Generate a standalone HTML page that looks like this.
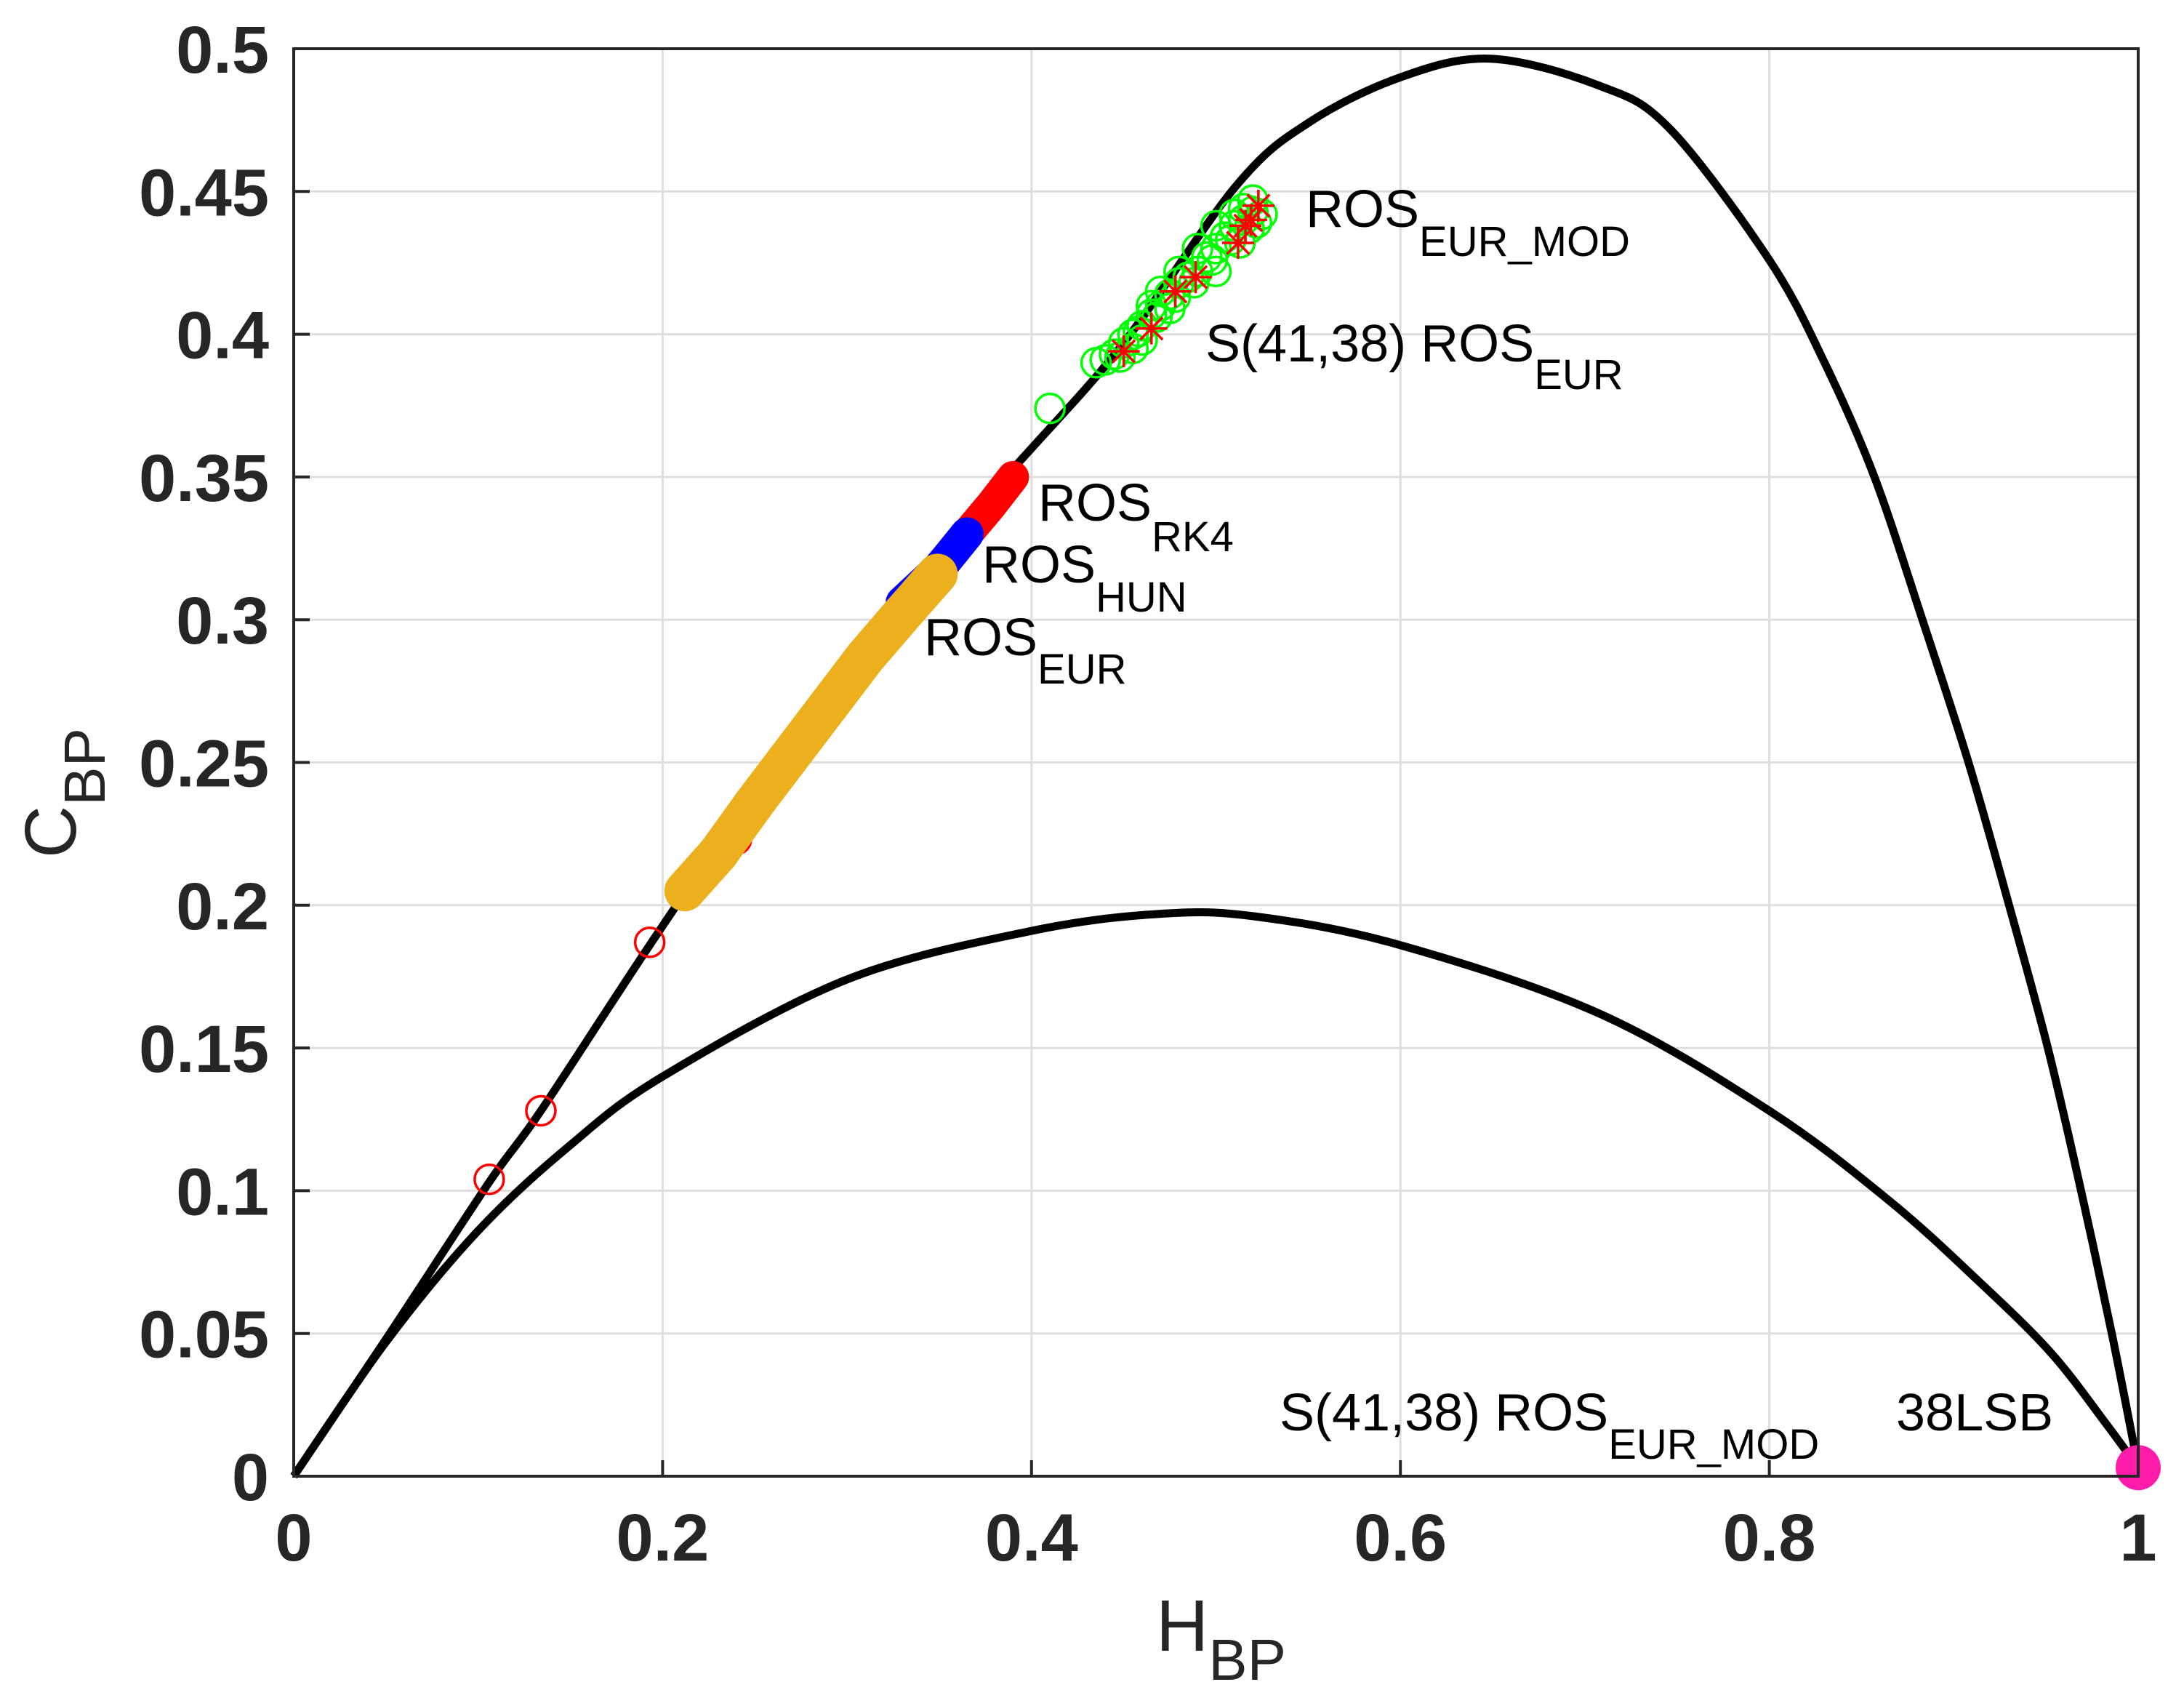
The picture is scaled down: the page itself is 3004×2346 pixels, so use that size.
<!DOCTYPE html>
<html><head><meta charset="utf-8"><style>
html,body{margin:0;padding:0;background:#fff;}
svg{display:block;font-family:"Liberation Sans",Arial,sans-serif;}
</style></head><body>
<svg id="chart" width="3004" height="2346" viewBox="0 0 3004 2346" xmlns="http://www.w3.org/2000/svg">
<g id="grid"></g>
<g id="curves"></g>
<g id="marks"></g>
<g id="axes"></g>
<g id="labels" font-size="72" fill="#000">
  <text x="1796" y="312">ROS<tspan font-size="58" dy="40">EUR_MOD</tspan></text>
  <text x="1658" y="497">S(41,38) ROS<tspan font-size="58" dy="38">EUR</tspan></text>
  <text x="1428" y="716">ROS<tspan font-size="58" dy="42">RK4</tspan></text>
  <text x="1351" y="801">ROS<tspan font-size="58" dy="40">HUN</tspan></text>
  <text x="1271" y="901">ROS<tspan font-size="58" dy="39">EUR</tspan></text>
  <text x="1760" y="1967">S(41,38) ROS<tspan font-size="58" dy="39">EUR_MOD</tspan></text>
  <text x="2608" y="1967">38LSB</text>
</g>
<text x="1590" y="2270" font-size="100" fill="#262626">H<tspan font-size="80" dy="40">BP</tspan></text>
<text transform="translate(104,1180) rotate(-90)" font-size="100" fill="#262626">C<tspan font-size="80" dy="40">BP</tspan></text>
</svg>
<script>
const xTicks=[0,0.2,0.4,0.6,0.8,1];
const xTickLabels=["0","0.2","0.4","0.6","0.8","1"];
const yTicks=[0,0.05,0.1,0.15,0.2,0.25,0.3,0.35,0.4,0.45,0.5];
const yTickLabels=["0","0.05","0.1","0.15","0.2","0.25","0.3","0.35","0.4","0.45","0.5"];
const upperH=[0,0.05,0.106,0.134,0.193,0.25,0.3,0.35,0.4,0.45,0.511,0.55,0.6,0.649,0.708,0.746,0.8,0.83,0.857,0.883,0.908,0.93,0.951,0.969,0.986,1];
const upperC=[0,0.048,0.103,0.128,0.186,0.24,0.285,0.325,0.36,0.397,0.452,0.474,0.49,0.4965,0.487,0.472,0.426,0.39,0.35,0.3,0.25,0.2,0.15,0.1,0.049,0.003];
const lowerH=[0,0.05,0.1,0.15,0.2,0.3,0.4,0.47,0.522,0.6,0.708,0.8,0.865,0.914,0.953,0.983,1];
const lowerC=[0,0.047,0.086,0.116,0.14,0.174,0.191,0.197,0.196,0.186,0.162,0.128,0.0965,0.068,0.043,0.018,0.003];
const eurH=[0.212,0.23,0.25,0.27,0.29,0.31,0.33,0.349];
const eurC=[0.205,0.218,0.236,0.253,0.27,0.287,0.302,0.316];
const hunH=[0.33,0.35,0.365];
const hunC=[0.306,0.318,0.33];
const rk4H=[0.365,0.378,0.39];
const rk4C=[0.33,0.34,0.35];
const greenH=[0.41,0.435,0.44,0.445,0.45,0.455,0.46,0.465,0.47,0.475,0.48,0.485,0.49,0.495,0.5,0.505,0.51,0.515,0.52,0.525,0.52,0.515,0.51,0.5,0.49,0.48,0.47,0.465,0.455,0.46,0.475,0.5,0.513,0.448,0.458,0.468,0.478,0.488,0.498,0.508,0.518,0.522];
const greenC=[0.374,0.39,0.391,0.393,0.397,0.4,0.403,0.407,0.41,0.414,0.418,0.42,0.422,0.427,0.43,0.434,0.438,0.44,0.443,0.442,0.447,0.444,0.442,0.438,0.43,0.422,0.415,0.41,0.395,0.398,0.409,0.422,0.432,0.392,0.401,0.406,0.413,0.418,0.426,0.433,0.437,0.439];
const starH=[0.45,0.465,0.478,0.489,0.512,0.516,0.519,0.523];
const starC=[0.394,0.402,0.415,0.42,0.432,0.438,0.44,0.445];
const redOpenH=[0.106,0.134,0.193,0.24];
const redOpenC=[0.104,0.128,0.187,0.223];
const lsbH=[1];
const lsbC=[0.003];

const NS="http://www.w3.org/2000/svg";
const X=h=>404+h*2537;
const Y=c=>2030-c*3926;
function mk(tag,attrs,parent){const e=document.createElementNS(NS,tag);for(const k in attrs)e.setAttribute(k,attrs[k]);parent.appendChild(e);return e;}
const grid=document.getElementById('grid'),curves=document.getElementById('curves'),marks=document.getElementById('marks'),axes=document.getElementById('axes');

xTicks.forEach((t,i)=>{
  const g=mk('line',{x1:X(t),x2:X(t),y1:Y(0),y2:Y(0.5),stroke:'#dedede','stroke-width':3},grid);
  
  
  const tk=mk('line',{x1:X(t),x2:X(t),y1:Y(0),y2:Y(0)-22,stroke:'#262626','stroke-width':4},axes);
  
  
  const tx=mk('text',{x:X(t),y:2146,'text-anchor':'middle','font-size':92,'font-weight':'bold',fill:'#262626'},axes);
  tx.textContent=xTickLabels[i];
  
  
});
yTicks.forEach((t,i)=>{
  const g=mk('line',{x1:X(0),x2:X(1),y1:Y(t),y2:Y(t),stroke:'#dedede','stroke-width':3},grid);
  
  
  const tk=mk('line',{x1:X(0),x2:X(0)+22,y1:Y(t),y2:Y(t),stroke:'#262626','stroke-width':4},axes);
  
  
  const tx=mk('text',{x:370,y:Y(t)+33,'text-anchor':'end','font-size':92,'font-weight':'bold',fill:'#262626'},axes);
  tx.textContent=yTickLabels[i];
  
  
});
const box=mk('rect',{x:X(0),y:Y(0.5),width:X(1)-X(0),height:Y(0)-Y(0.5),fill:'none',stroke:'#262626','stroke-width':4},axes);



function path(hs,cs){return hs.map((h,i)=>(i?'L':'M')+X(h).toFixed(1)+','+Y(cs[i]).toFixed(1)).join(' ');}
function smooth(hs,cs){
  const p=hs.map((h,i)=>[X(h),Y(cs[i])]);
  let d='M'+p[0][0].toFixed(1)+','+p[0][1].toFixed(1);
  for(let i=0;i<p.length-1;i++){
    const p0=p[i-1]||p[i],p1=p[i],p2=p[i+1],p3=p[i+2]||p2;
    const c1=[p1[0]+(p2[0]-p0[0])/6,p1[1]+(p2[1]-p0[1])/6];
    const c2=[p2[0]-(p3[0]-p1[0])/6,p2[1]-(p3[1]-p1[1])/6];
    d+=`C${c1[0].toFixed(1)},${c1[1].toFixed(1)} ${c2[0].toFixed(1)},${c2[1].toFixed(1)} ${p2[0].toFixed(1)},${p2[1].toFixed(1)}`;
  }
  return d;
}
const up=mk('path',{d:smooth(upperH,upperC),fill:'none',stroke:'#000','stroke-width':11,'stroke-linejoin':'round'},curves);


const lo=mk('path',{d:smooth(lowerH,lowerC),fill:'none',stroke:'#000','stroke-width':11,'stroke-linejoin':'round'},curves);



redOpenH.forEach((h,i)=>{
  const c=mk('circle',{cx:X(h),cy:Y(redOpenC[i]),r:20,fill:'none',stroke:'#ff0000','stroke-width':3.5},marks);
  
  
});
function band(hs,cs,color,w,name){
  const p=mk('path',{d:path(hs,cs),fill:'none',stroke:color,'stroke-width':w,'stroke-linecap':'round','stroke-linejoin':'round'},marks);
  
  
}
band(rk4H,rk4C,'#ff0000',44,'ros-rk4-points');
band(hunH,hunC,'#0000ff',46,'ros-hun-points');
band(eurH,eurC,'#ecb01f',56,'ros-eur-points');

greenH.forEach((h,i)=>{
  const c=mk('circle',{cx:X(h),cy:Y(greenC[i]),r:20,fill:'none',stroke:'#00ff00','stroke-width':3.5},marks);
  
  
});
starH.forEach((h,i)=>{
  const cx=X(h),cy=Y(starC[i]),r=22;
  const d=`M${cx-r},${cy}L${cx+r},${cy}M${cx},${cy-r}L${cx},${cy+r}M${cx-r*0.7},${cy-r*0.7}L${cx+r*0.7},${cy+r*0.7}M${cx-r*0.7},${cy+r*0.7}L${cx+r*0.7},${cy-r*0.7}`;
  const p=mk('path',{d:d,stroke:'#ff0000','stroke-width':3.5,fill:'none'},marks);
  
  
});
lsbH.forEach((h,i)=>{
  const c=mk('circle',{cx:X(h),cy:Y(lsbC[i]),r:31,fill:'#ff1cab'},marks);
  
  
});
</script>
</body></html>
